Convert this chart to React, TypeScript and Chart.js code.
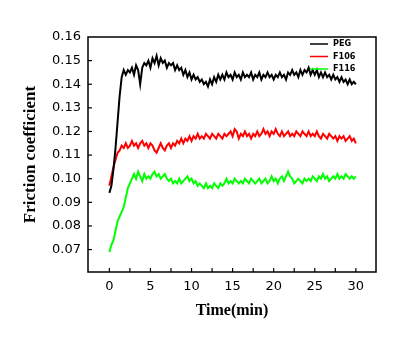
import React, { useEffect, useRef } from "react";
import { Chart, registerables } from "chart.js";

Chart.register(...registerables);

const TIMES = [
  0, 0.25, 0.5, 0.75, 1, 1.25, 1.5, 1.75,
  2, 2.25, 2.5, 2.75, 3, 3.25, 3.5, 3.75,
  4, 4.25, 4.5, 4.75, 5, 5.25, 5.5, 5.75,
  6, 6.25, 6.5, 6.75, 7, 7.25, 7.5, 7.75,
  8, 8.25, 8.5, 8.75, 9, 9.25, 9.5, 9.75,
  10, 10.25, 10.5, 10.75, 11, 11.25, 11.5, 11.75,
  12, 12.25, 12.5, 12.75, 13, 13.25, 13.5, 13.75,
  14, 14.25, 14.5, 14.75, 15, 15.25, 15.5, 15.75,
  16, 16.25, 16.5, 16.75, 17, 17.25, 17.5, 17.75,
  18, 18.25, 18.5, 18.75, 19, 19.25, 19.5, 19.75,
  20, 20.25, 20.5, 20.75, 21, 21.25, 21.5, 21.75,
  22, 22.25, 22.5, 22.75, 23, 23.25, 23.5, 23.75,
  24, 24.25, 24.5, 24.75, 25, 25.25, 25.5, 25.75,
  26, 26.25, 26.5, 26.75, 27, 27.25, 27.5, 27.75,
  28, 28.25, 28.5, 28.75, 29, 29.25, 29.5, 29.75,
  30,
];

const PEG = [
  0.094, 0.097, 0.104, 0.113, 0.124, 0.135, 0.143, 0.146,
  0.144, 0.146, 0.145, 0.147, 0.144, 0.148, 0.146, 0.140,
  0.147, 0.149, 0.148, 0.150, 0.147, 0.151, 0.149, 0.152,
  0.148, 0.151, 0.149, 0.150, 0.147, 0.149, 0.148, 0.149,
  0.146, 0.148, 0.146, 0.147, 0.144, 0.146, 0.143, 0.145,
  0.142, 0.144, 0.142, 0.143, 0.141, 0.142, 0.140, 0.141,
  0.139, 0.142, 0.140, 0.143, 0.141, 0.144, 0.142, 0.144,
  0.142, 0.145, 0.143, 0.144, 0.142, 0.145, 0.143, 0.144,
  0.142, 0.145, 0.143, 0.144, 0.143, 0.145, 0.142, 0.144,
  0.143, 0.145, 0.142, 0.144, 0.143, 0.145, 0.143, 0.144,
  0.142, 0.144, 0.143, 0.145, 0.143, 0.144, 0.142, 0.145,
  0.144, 0.146, 0.144, 0.145, 0.143, 0.146, 0.144, 0.146,
  0.145, 0.147, 0.144, 0.146, 0.144, 0.146, 0.143, 0.145,
  0.143, 0.145, 0.143, 0.144, 0.142, 0.144, 0.142, 0.143,
  0.141, 0.143, 0.141, 0.142, 0.140, 0.142, 0.140, 0.141,
  0.140,
];

const F106 = [
  0.097, 0.101, 0.105, 0.108, 0.111, 0.112, 0.114, 0.113,
  0.115, 0.113, 0.114, 0.116, 0.114, 0.115, 0.113, 0.115,
  0.116, 0.114, 0.115, 0.113, 0.115, 0.114, 0.112, 0.111,
  0.113, 0.115, 0.113, 0.112, 0.114, 0.115, 0.113, 0.115,
  0.114, 0.116, 0.115, 0.117, 0.115, 0.117, 0.116, 0.118,
  0.116, 0.118, 0.117, 0.119, 0.117, 0.118, 0.117, 0.119,
  0.118, 0.117, 0.119, 0.118, 0.117, 0.119, 0.118, 0.117,
  0.119, 0.118, 0.119, 0.120, 0.118, 0.121, 0.120, 0.117,
  0.119, 0.118, 0.120, 0.118, 0.119, 0.117, 0.119, 0.118,
  0.120, 0.118, 0.119, 0.121, 0.119, 0.120, 0.118, 0.120,
  0.119, 0.121, 0.119, 0.118, 0.120, 0.118, 0.119, 0.120,
  0.118, 0.119, 0.118, 0.120, 0.119, 0.118, 0.120, 0.119,
  0.118, 0.120, 0.118, 0.119, 0.118, 0.120, 0.118, 0.117,
  0.119, 0.118, 0.117, 0.119, 0.118, 0.117, 0.118, 0.116,
  0.118, 0.117, 0.118, 0.116, 0.117, 0.118, 0.116, 0.117,
  0.115,
];

const F116 = [
  0.069, 0.072, 0.074, 0.078, 0.082, 0.084, 0.086, 0.088,
  0.092, 0.096, 0.098, 0.100, 0.102, 0.100, 0.103, 0.101,
  0.099, 0.102, 0.100, 0.101, 0.100, 0.102, 0.103, 0.101,
  0.102, 0.100, 0.101, 0.102, 0.100, 0.099, 0.100, 0.098,
  0.099, 0.098, 0.100, 0.098, 0.099, 0.100, 0.101, 0.099,
  0.100, 0.098, 0.099, 0.097, 0.098, 0.097, 0.096, 0.098,
  0.096, 0.097, 0.096, 0.098, 0.097, 0.096, 0.098, 0.097,
  0.098, 0.100, 0.098, 0.099, 0.098, 0.100, 0.099, 0.098,
  0.099, 0.098, 0.100, 0.099, 0.098, 0.100, 0.099, 0.098,
  0.099, 0.100, 0.098, 0.099, 0.100, 0.098, 0.099, 0.101,
  0.099, 0.100, 0.098, 0.100, 0.101, 0.099, 0.101, 0.103,
  0.101, 0.100, 0.098, 0.099, 0.100, 0.099, 0.098, 0.100,
  0.099, 0.100, 0.099, 0.101, 0.100, 0.099, 0.101, 0.100,
  0.102, 0.100, 0.101, 0.099, 0.100, 0.101, 0.100, 0.102,
  0.100, 0.101, 0.100, 0.102, 0.101, 0.100, 0.101, 0.100,
  0.101,
];

const SERIES_LABELS = ["PEG", "F106", "F116"];
const SERIES_COLORS = ["#000000", "#ff0000", "#00ff00"];
const X_TITLE = "Time(min)";
const Y_TITLE = "Friction coefficient";

const framePlugin = {
  id: "frameTicks",
  afterDraw(chart: any) {
    const { ctx, chartArea } = chart;
    const { left, right, top, bottom } = chartArea;
    ctx.save();
    ctx.strokeStyle = "#000";
    ctx.lineWidth = 1.5;
    ctx.strokeRect(left, top, right - left, bottom - top);
    ctx.lineWidth = 1.2;
    const xs = chart.scales.x;
    const xt = xs.ticks.map((t: any) => t.value);
    const xMarks: number[] = [];
    xt.forEach((v: number, i: number) => {
      xMarks.push(v);
      if (i < xt.length - 1) xMarks.push((v + xt[i + 1]) / 2);
    });
    if (xt.length > 1) {
      const step = xt[1] - xt[0];
      xMarks.push(xt[0] - step / 2, xt[xt.length - 1] + step / 2);
    }
    xMarks.forEach((v) => {
      const px = xs.getPixelForValue(v);
      if (px <= left + 1 || px >= right - 1) return;
      ctx.beginPath();
      ctx.moveTo(px, bottom);
      ctx.lineTo(px, bottom - 4);
      ctx.stroke();
    });
    const ys = chart.scales.y;
    ys.ticks.forEach((t: any) => {
      const py = ys.getPixelForValue(t.value);
      if (py <= top + 1 || py >= bottom - 1) return;
      ctx.beginPath();
      ctx.moveTo(left, py);
      ctx.lineTo(left + 4, py);
      ctx.stroke();
    });
    // legend
    ctx.font = "bold 9px 'DejaVu Sans Condensed', 'DejaVu Sans'";
    ctx.textBaseline = "middle";
    ctx.textAlign = "left";
    chart.data.datasets.forEach((ds: any, i: number) => {
      const y = top + 7 + i * 12.5;
      ctx.strokeStyle = ds.borderColor;
      ctx.lineWidth = 1.5;
      ctx.beginPath();
      ctx.moveTo(right - 66, y);
      ctx.lineTo(right - 48, y);
      ctx.stroke();
      ctx.fillStyle = "#000";
      ctx.fillText(ds.label, right - 43, y);
    });
    ctx.restore();
  },
};

export default function App() {
  const ref = useRef<HTMLCanvasElement | null>(null);
  useEffect(() => {
    if (!ref.current) return;
    const seriesList = [PEG, F106, F116];
    const chart = new Chart(ref.current, {
      type: "line",
      data: {
        datasets: seriesList.map((s, i) => ({
          label: SERIES_LABELS[i],
          data: s.map((v, j) => ({ x: TIMES[j], y: v })),
          borderColor: SERIES_COLORS[i],
          backgroundColor: SERIES_COLORS[i],
          borderWidth: 2,
          pointRadius: 0,
          tension: 0,
          fill: false,
        })),
      },
      options: {
        animation: false,
        responsive: false,
        layout: { padding: { left: 0, top: 37, right: 24, bottom: 0 } },
        plugins: { legend: { display: false }, tooltip: { enabled: false } },
        scales: {
          x: {
            type: "linear",
            min: -2.6,
            max: 32.45,
            grid: { display: false, drawTicks: false },
            border: { display: false },
            ticks: {
              stepSize: 5,
              includeBounds: false,
              padding: 7,
              color: "#000",
              font: { family: "'DejaVu Sans'", size: 13 },
              autoSkip: false,
              maxRotation: 0,
            },
            title: {
              display: true,
              text: X_TITLE,
              color: "#000",
              font: { family: "'Liberation Serif'", size: 16, weight: "bold" },
              padding: { top: 0, bottom: 30 },
            },
            afterFit: (s: any) => {
              s.height = 78;
            },
          },
          y: {
            min: 0.0605,
            max: 0.16,
            grid: { display: false, drawTicks: false },
            border: { display: false },
            ticks: {
              stepSize: 0.01,
              includeBounds: false,
              padding: 7,
              color: "#000",
              font: { family: "'DejaVu Sans'", size: 13 },
              callback: (v: any) => Number(v).toFixed(2),
            },
            title: {
              display: true,
              text: Y_TITLE,
              color: "#000",
              font: { family: "'Liberation Serif'", size: 17, weight: "bold" },
              padding: { top: 20, bottom: 0 },
            },
            afterFit: (s: any) => {
              s.width = 88;
            },
          },
        },
      },
      plugins: [framePlugin],
    });
    return () => chart.destroy();
  }, []);
  return (
    <div style={{ position: "fixed", left: 0, top: 0, width: 400, height: 350, background: "#fff" }}>
      <canvas ref={ref} width={400} height={350} />
    </div>
  );
}
